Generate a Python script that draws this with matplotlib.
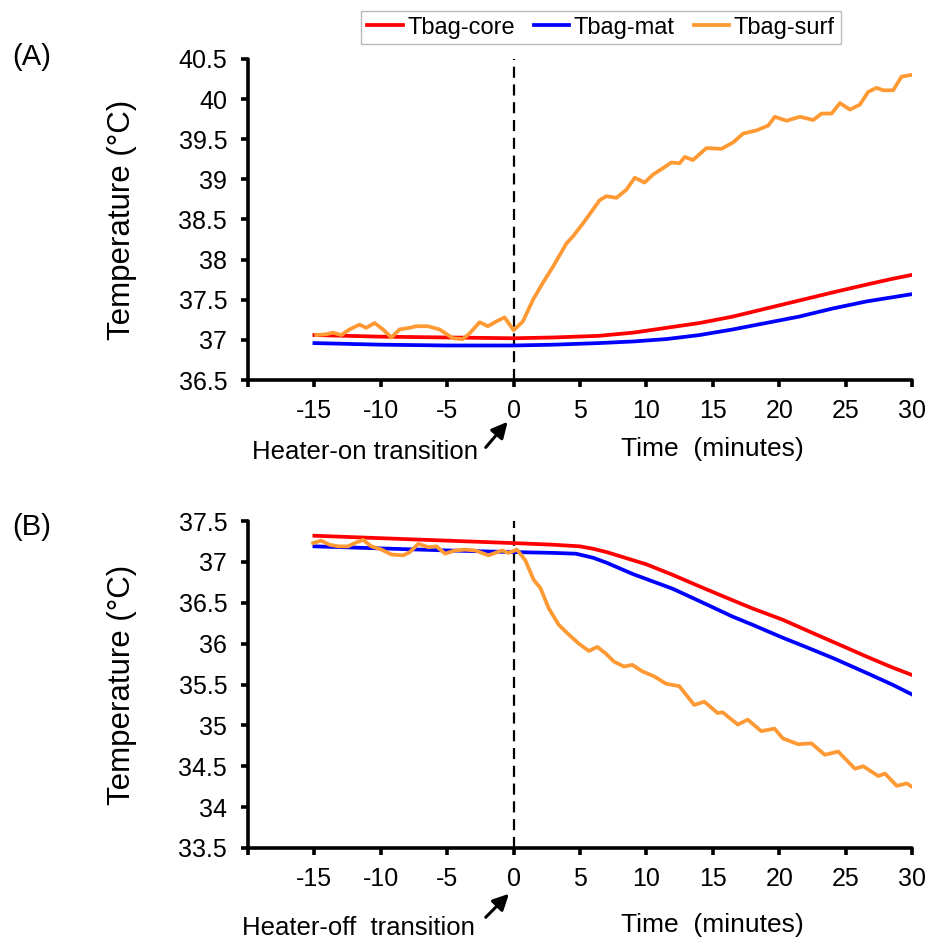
import matplotlib
matplotlib.use('Agg')
import matplotlib.pyplot as plt
from matplotlib.ticker import FuncFormatter, MultipleLocator

plt.rcParams['font.family'] = ['Liberation Sans', 'DejaVu Sans']

# ---------------- data ----------------
series_names = ['Tbag-core', 'Tbag-mat', 'Tbag-surf']
series_colors = ['#ff0000', '#0000ff', '#ff9933']

# (A) heater-on
on_core_t = [-15, -10, -5, 0, 3, 6.4, 9, 11.5, 14, 16.5, 19, 21.5, 24, 26.6, 28.5, 30]
on_core_y = [37.06, 37.04, 37.03, 37.02, 37.03, 37.05, 37.09, 37.15, 37.21, 37.29,
             37.39, 37.49, 37.59, 37.69, 37.76, 37.81]
on_mat_t = [-15, -10, -5, 0, 3, 6.4, 9, 11.5, 14, 16.5, 19, 21.5, 24, 26.6, 28.5, 30]
on_mat_y = [36.96, 36.94, 36.93, 36.93, 36.94, 36.96, 36.98, 37.01, 37.06, 37.13,
             37.21, 37.29, 37.39, 37.48, 37.53, 37.57]
on_surf_t = [-14.86, -14.1, -13.6, -12.97, -12.36, -11.6, -11.1, -10.47, -9.84, -9.2,
             -8.59, -7.84, -7.33, -6.46, -5.58, -4.57, -3.82, -3.32, -2.56, -1.94,
             -1.3, -0.68, 0.0, 0.7, 1.46, 2.2, 2.96, 3.97, 4.47, 5.22,
             6.48, 6.98, 7.74, 8.49, 9.12, 9.87, 10.5, 11.25, 11.88, 12.5,
             12.89, 13.5, 14.52, 15.65, 16.53, 17.28, 18.29, 19.17, 19.67, 20.55,
             21.56, 22.57, 23.19, 23.95, 24.57, 25.32, 26.07, 26.7, 27.33, 27.83,
             28.58, 29.21, 29.9]
on_surf_y = [37.06, 37.07, 37.09, 37.06, 37.13, 37.19, 37.15, 37.21, 37.13, 37.03,
             37.13, 37.15, 37.17, 37.17, 37.13, 37.02, 37.01, 37.08, 37.22, 37.17,
             37.23, 37.28, 37.12, 37.23, 37.5, 37.71, 37.91, 38.2, 38.29, 38.45,
             38.74, 38.79, 38.77, 38.87, 39.02, 38.96, 39.06, 39.14, 39.21, 39.2,
             39.28, 39.24, 39.39, 39.38, 39.46, 39.57, 39.61, 39.67, 39.78, 39.73,
             39.78, 39.74, 39.82, 39.82, 39.95, 39.87, 39.93, 40.09, 40.14, 40.11,
             40.11, 40.28, 40.3]

# (B) heater-off
off_core_t = [-15, -5, 0, 3, 5, 6, 7, 8, 9, 10, 12, 14, 16.5, 18, 20.3, 22.8, 24.5,
              26.6, 28.5, 30.1]
off_core_y = [37.32, 37.26, 37.23, 37.21, 37.19, 37.16, 37.12, 37.07, 37.02, 36.97,
              36.84, 36.7, 36.53, 36.43, 36.29, 36.11, 35.99, 35.84, 35.71, 35.61]
off_mat_t = [-15, -5, 0, 3, 4.7, 6, 7, 8, 9, 10, 12, 14, 16.5, 18, 20.3, 22, 24.1,
             26.6, 28.5, 30.1]
off_mat_y = [37.19, 37.14, 37.12, 37.11, 37.1, 37.05, 36.99, 36.92, 36.85, 36.79,
             36.67, 36.52, 36.33, 36.23, 36.07, 35.96, 35.82, 35.64, 35.5, 35.37]
off_surf_t = [-15.1, -14.5, -13.86, -13.2, -12.47, -11.96, -11.34, -10.71, -9.95, -9.2,
              -8.31, -7.81, -7.18, -6.42, -5.8, -5.16, -4.41, -3.65, -2.9, -1.89,
              -0.88, -0.38, 0.25, 0.88, 1.51, 2.02, 2.65, 3.4, 4.16, 4.91,
              5.67, 6.3, 6.93, 7.56, 8.31, 8.94, 9.7, 10.58, 11.47, 12.47,
              13.6, 14.36, 15.37, 15.74, 16.88, 17.63, 18.64, 19.65, 20.28, 21.42,
              22.43, 23.43, 24.44, 25.7, 26.33, 27.46, 27.97, 28.85, 29.6, 30.2]
off_surf_y = [37.23, 37.26, 37.21, 37.19, 37.19, 37.23, 37.27, 37.19, 37.15, 37.09,
              37.08, 37.12, 37.22, 37.18, 37.19, 37.1, 37.14, 37.15, 37.14, 37.08,
              37.14, 37.11, 37.15, 37.02, 36.78, 36.68, 36.43, 36.23, 36.11, 36.0,
              35.91, 35.96, 35.88, 35.78, 35.72, 35.74, 35.66, 35.6, 35.51, 35.48,
              35.25, 35.29, 35.15, 35.16, 35.01, 35.07, 34.93, 34.96, 34.84, 34.77,
              34.78, 34.64, 34.68, 34.47, 34.5, 34.38, 34.41, 34.26, 34.29, 34.23]

x_ticks = [-20, -15, -10, -5, 0, 5, 10, 15, 20, 25, 30]
x_tick_labels = ['', '-15', '-10', '-5', '0', '5', '10', '15', '20', '25', '30']

fig = plt.figure(figsize=(9.31, 9.42), dpi=100)
ax_a = fig.add_axes([0.2664, 0.5966, 0.7132, 0.3408])
ax_b = fig.add_axes([0.2664, 0.0998, 0.7132, 0.3471])


def style_axis(ax, ylim):
    ax.set_xlim(-20, 30)
    ax.set_ylim(*ylim)
    ax.set_xticks(x_ticks)
    ax.set_xticklabels(x_tick_labels)
    ax.yaxis.set_major_locator(MultipleLocator(0.5))
    ax.yaxis.set_major_formatter(FuncFormatter(lambda v, p: f'{v:g}'))
    for side in ['top', 'right']:
        ax.spines[side].set_visible(False)
    for side in ['left', 'bottom']:
        ax.spines[side].set_linewidth(2.6)
        ax.spines[side].set_capstyle('round')
    ax.tick_params(axis='both', direction='out', length=5, width=2.6, labelsize=18)
    ax.tick_params(axis='x', pad=9)
    ax.tick_params(axis='y', pad=10)
    ax.set_ylabel('Temperature (°C)', fontsize=22.5)
    ax.yaxis.set_label_coords(-0.167, 0.5)
    ax.axvline(0, color='black', lw=1.6, dashes=(5, 3), zorder=1)


def draw_arrow(ax, head, tail):
    ax.annotate('', xy=head, xytext=tail,
                xycoords=('data', 'axes fraction'), textcoords=('data', 'axes fraction'),
                arrowprops=dict(arrowstyle='-|>', color='black', lw=2.2,
                                mutation_scale=24, shrinkA=0, shrinkB=0),
                annotation_clip=False)


# ---------------- (A) ----------------
style_axis(ax_a, (36.5, 40.5))
ax_a.plot(on_core_t, on_core_y, color=series_colors[0], lw=2.7, label=series_names[0])
ax_a.plot(on_mat_t, on_mat_y, color=series_colors[1], lw=2.7, label=series_names[1])
ax_a.plot(on_surf_t, on_surf_y, color=series_colors[2], lw=2.7, label=series_names[2])
ax_a.text(0.70, -0.215, 'Time  (minutes)', transform=ax_a.transAxes,
          ha='center', va='center', fontsize=19)
ax_a.text(0.006, -0.224, 'Heater-on transition', transform=ax_a.transAxes,
          ha='left', va='center', fontsize=18.5)
draw_arrow(ax_a, (-0.45, -0.13), (-2.1, -0.21))

# ---------------- (B) ----------------
style_axis(ax_b, (33.5, 37.5))
ax_b.plot(off_core_t, off_core_y, color=series_colors[0], lw=2.7)
ax_b.plot(off_mat_t, off_mat_y, color=series_colors[1], lw=2.7)
ax_b.plot(off_surf_t, off_surf_y, color=series_colors[2], lw=2.7)
ax_b.text(0.70, -0.235, 'Time  (minutes)', transform=ax_b.transAxes,
          ha='center', va='center', fontsize=19)
ax_b.text(-0.009, -0.245, 'Heater-off  transition', transform=ax_b.transAxes,
          ha='left', va='center', fontsize=18.5)
draw_arrow(ax_b, (-0.35, -0.14), (-2.1, -0.212))

# panel letters
fig.text(32 / 931, 1 - 57 / 942, '(A)', ha='center', va='center', fontsize=21)
fig.text(32 / 931, 1 - 527 / 942, '(B)', ha='center', va='center', fontsize=21)

# legend
leg = fig.legend(loc='center', bbox_to_anchor=(0.6456, 0.9708), ncol=3, fontsize=17,
                 frameon=True, fancybox=False, edgecolor='#aaaaaa', handlelength=1.5,
                 handletextpad=0.2, columnspacing=0.8, borderpad=0.25)
leg.get_frame().set_linewidth(1.0)

fig.savefig('out.png', dpi=100)
